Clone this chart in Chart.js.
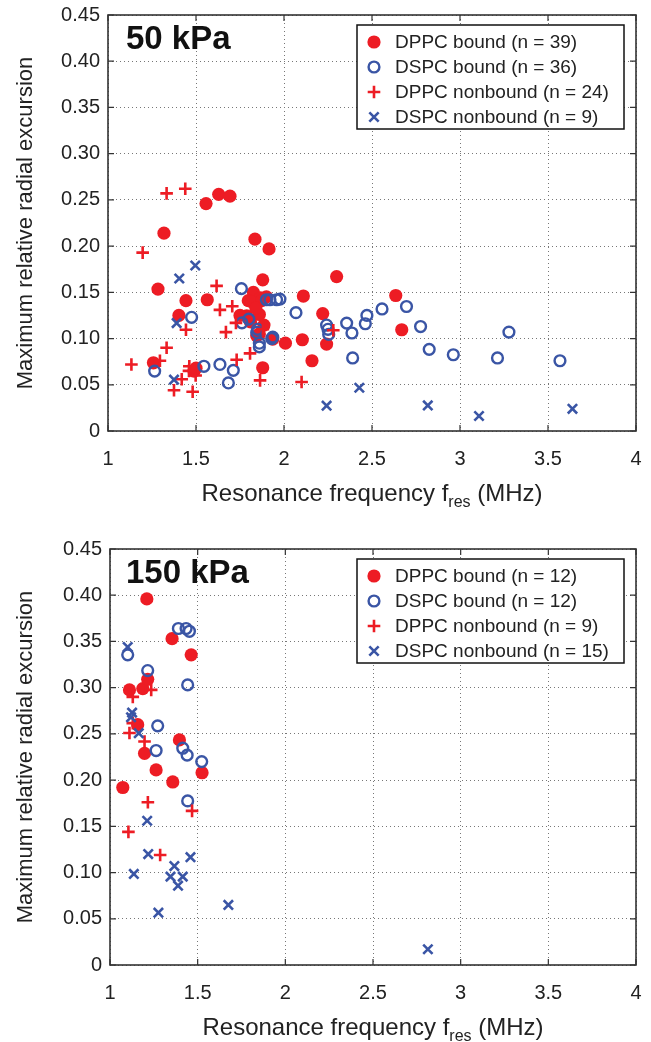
<!DOCTYPE html>
<html><head><meta charset="utf-8">
<script src="https://cdn.jsdelivr.net/npm/chart.js@4"></script>
<style>
html,body{margin:0;padding:0;background:#fff;}
#wrap{position:relative;width:651px;height:1042px;overflow:hidden;}
.c{position:absolute;left:0;width:651px;height:521px;}
</style></head><body>
<div id="wrap">
<div class="c" style="top:0"><canvas id="c1" width="651" height="521"></canvas></div>
<div class="c" style="top:521px"><canvas id="c2" width="651" height="521"></canvas></div>
</div>
<script>
// ---------- tick labels ----------
const xTickLabels = ['1','1.5','2','2.5','3','3.5','4'];
const yTickLabels = ['0','0.05','0.10','0.15','0.20','0.25','0.30','0.35','0.40','0.45'];
const seriesNames = ['DPPC bound','DSPC bound','DPPC nonbound','DSPC nonbound'];
const panelTitles = ['50 kPa','150 kPa'];
const counts50 = [39,36,24,9];
const counts150 = [12,12,9,15];

// ---------- 50 kPa ----------
const f50_dppcBound = [1.557,1.629,1.693,1.318,1.835,1.915,1.879,2.299,1.284,1.443,1.564,1.826,1.797,1.867,2.110,1.403,1.788,1.860,1.886,1.845,1.936,2.008,2.104,2.220,2.242,2.159,1.258,1.489,1.879,2.635,2.669,1.816,1.873,1.840,1.810,1.860,1.900,1.750,1.500];
const r50_dppcBound = [0.246,0.256,0.254,0.214,0.2075,0.197,0.1635,0.167,0.1535,0.141,0.142,0.150,0.141,0.144,0.146,0.125,0.1246,0.126,0.1146,0.103,0.0994,0.095,0.0987,0.127,0.094,0.076,0.0738,0.0648,0.0684,0.1466,0.1095,0.140,0.141,0.133,0.118,0.105,0.145,0.125,0.068];
const f50_dspcBound = [1.265,1.475,1.545,1.636,1.684,1.712,1.758,1.761,1.845,1.860,1.936,1.920,1.958,1.977,2.068,2.242,2.254,2.356,2.386,2.390,2.462,2.471,2.557,2.696,2.776,2.825,2.962,3.213,3.278,3.568,1.800,1.850,1.930,1.860,2.250,1.900];
const r50_dspcBound = [0.0648,0.123,0.070,0.072,0.052,0.0656,0.154,0.117,0.1066,0.091,0.1016,0.142,0.142,0.1427,0.128,0.1146,0.1045,0.1167,0.106,0.079,0.116,0.125,0.132,0.1347,0.113,0.0883,0.0825,0.079,0.107,0.076,0.121,0.110,0.100,0.095,0.110,0.142];
const f50_dppcNon = [1.333,1.439,1.197,1.617,1.636,1.706,1.727,1.670,1.443,1.333,1.295,1.133,1.462,1.419,1.498,1.375,1.481,1.731,1.807,1.864,2.100,2.280,1.880,1.460];
const r50_dppcNon = [0.257,0.262,0.193,0.157,0.131,0.135,0.117,0.107,0.1095,0.090,0.076,0.072,0.070,0.056,0.060,0.044,0.0425,0.077,0.084,0.0548,0.053,0.109,0.110,0.065];
const f50_dspcNon = [1.496,1.405,1.390,1.375,2.242,2.428,2.817,3.108,3.639];
const r50_dspcNon = [0.179,0.165,0.1167,0.0555,0.0274,0.0468,0.0277,0.0162,0.024];

// ---------- 150 kPa ----------
const f150_dppcBound = [1.210,1.354,1.463,1.111,1.187,1.215,1.158,1.396,1.197,1.263,1.525,1.073,1.358];
const r150_dppcBound = [0.396,0.353,0.3355,0.2976,0.299,0.309,0.260,0.2435,0.229,0.211,0.208,0.192,0.198];
const f150_dspcBound = [1.101,1.215,1.390,1.434,1.453,1.443,1.272,1.263,1.415,1.440,1.523,1.443];
const r150_dspcBound = [0.3355,0.3185,0.364,0.364,0.361,0.303,0.2587,0.232,0.2345,0.227,0.220,0.1775];
const f150_dppcNon = [1.111,1.197,1.235,1.130,1.130,1.216,1.468,1.105,1.286];
const r150_dppcNon = [0.251,0.2417,0.2976,0.290,0.2616,0.176,0.1667,0.144,0.119];
const f150_dspcNon = [1.101,1.126,1.164,1.120,1.212,1.218,1.459,1.136,1.367,1.345,1.415,1.388,1.276,1.675,2.813];
const r150_dspcNon = [0.344,0.273,0.2508,0.268,0.156,0.120,0.1166,0.0985,0.107,0.0956,0.0956,0.0858,0.0566,0.065,0.017];

// ---------- styling ----------
const RED = '#ED1C24', BLUE = '#3A55A5';
const FONT = '"Liberation Sans", Arial, Helvetica, sans-serif';
const styles = [
  {pointStyle:'circle', pointRadius:6.6, backgroundColor:RED, borderColor:RED, borderWidth:0, order:4},
  {pointStyle:'circle', pointRadius:5.4, backgroundColor:'rgba(0,0,0,0)', borderColor:BLUE, borderWidth:2.4, order:3},
  {pointStyle:'cross', pointRadius:6.3, backgroundColor:RED, borderColor:RED, borderWidth:2.6, order:2},
  {pointStyle:'crossRot', pointRadius:6.6, backgroundColor:BLUE, borderColor:BLUE, borderWidth:2.6, order:1}
];
const pts = (xs, ys) => xs.map((x, i) => ({x: x, y: ys[i]}));

function makeDatasets(pairs, counts) {
  return pairs.map((p, i) => Object.assign({
    label: seriesNames[i] + ' (n = ' + counts[i] + ')',
    data: pts(p[0], p[1]),
    showLine: false,
    pointHoverRadius: styles[i].pointRadius
  }, styles[i]));
}

const decorPlugin = {
  id: 'decor',
  afterDraw(chart, args, opts) {
    const ctx = chart.ctx, a = chart.chartArea;
    const xs = chart.scales.x, ys = chart.scales.y;
    ctx.save();
    // box
    ctx.strokeStyle = '#333';
    ctx.lineWidth = 1.6;
    ctx.strokeRect(a.left, a.top, a.right - a.left, a.bottom - a.top);
    // inward ticks
    ctx.lineWidth = 1.2;
    ctx.beginPath();
    xTickLabels.forEach(t => {
      const px = xs.getPixelForValue(parseFloat(t));
      ctx.moveTo(px, a.bottom); ctx.lineTo(px, a.bottom - 6);
      ctx.moveTo(px, a.top); ctx.lineTo(px, a.top + 6);
    });
    yTickLabels.forEach(t => {
      const py = ys.getPixelForValue(parseFloat(t));
      ctx.moveTo(a.left, py); ctx.lineTo(a.left + 6, py);
      ctx.moveTo(a.right, py); ctx.lineTo(a.right - 6, py);
    });
    ctx.stroke();
    // panel title
    ctx.fillStyle = '#111';
    ctx.font = 'bold 33px ' + FONT;
    ctx.textAlign = 'left';
    ctx.textBaseline = 'middle';
    ctx.fillText(opts.panel, 126, a.top + 25);
    // x axis title with subscript
    const yT = a.bottom + 62;
    const big = '24px ' + FONT, small = '16px ' + FONT;
    const p1 = 'Resonance frequency f', p2 = 'res', p3 = ' (MHz)';
    ctx.font = big; const w1 = ctx.measureText(p1).width, w3 = ctx.measureText(p3).width;
    ctx.font = small; const w2 = ctx.measureText(p2).width;
    let x0 = (a.left + a.right) / 2 - (w1 + w2 + w3) / 2;
    ctx.fillStyle = '#222';
    ctx.textBaseline = 'alphabetic';
    const base = yT + 8;
    ctx.font = big; ctx.fillText(p1, x0, base); x0 += w1;
    ctx.font = small; ctx.fillText(p2, x0, base + 6); x0 += w2;
    ctx.font = big; ctx.fillText(p3, x0, base);
    // legend
    const L = 357, R = 624, T = a.top + 10, B = a.top + 114;
    ctx.fillStyle = '#fff';
    ctx.fillRect(L, T, R - L, B - T);
    ctx.strokeStyle = '#111';
    ctx.lineWidth = 1.5;
    ctx.strokeRect(L, T, R - L, B - T);
    const rows = [17, 42, 67, 92];
    chart.data.datasets.forEach((ds, i) => {
      const ry = T + rows[i];
      ctx.save();
      ctx.fillStyle = ds.backgroundColor;
      ctx.strokeStyle = ds.borderColor;
      ctx.lineWidth = ds.borderWidth;
      Chart.helpers.drawPoint(ctx, {pointStyle: ds.pointStyle, radius: ds.pointRadius, borderWidth: ds.borderWidth, rotation: 0}, 374, ry);
      ctx.restore();
      ctx.fillStyle = '#222';
      ctx.font = '19px ' + FONT;
      ctx.textAlign = 'left';
      ctx.textBaseline = 'middle';
      ctx.fillText(ds.label, 395, ry + 1);
    });
    ctx.restore();
  }
};

function makeChart(id, panel, datasets, box) {
  return new Chart(document.getElementById(id), {
    type: 'scatter',
    data: {datasets: datasets},
    plugins: [decorPlugin],
    options: {
      responsive: false,
      animation: false,
      devicePixelRatio: 1,
      layout: {padding: {left: 0, top: box.top, right: 651 - box.right, bottom: 0}},
      plugins: {legend: {display: false}, tooltip: {enabled: false}, decor: {panel: panel}},
      scales: {
        x: {
          type: 'linear', min: 1, max: 4,
          afterFit: s => { s.height = 521 - box.bottom; s.paddingLeft = 0; s.paddingRight = 0; },
          afterBuildTicks: s => { s.ticks = xTickLabels.map(t => ({value: parseFloat(t)})); },
          ticks: {callback: (v) => xTickLabels[Math.round((v - 1) / 0.5)], color: '#222', font: {family: FONT, size: 20}, padding: 16, maxRotation: 0},
          grid: {color: '#777', lineWidth: 1, drawTicks: false},
          border: {display: false, dash: [1, 3]}
        },
        y: {
          type: 'linear', min: 0, max: 0.45,
          afterFit: s => { s.width = box.left; s.paddingTop = 0; s.paddingBottom = 0; },
          afterBuildTicks: s => { s.ticks = yTickLabels.map(t => ({value: parseFloat(t)})); },
          ticks: {callback: (v) => yTickLabels[Math.round(v / 0.05)], color: '#222', font: {family: FONT, size: 20}, padding: 8},
          grid: {color: '#777', lineWidth: 1, drawTicks: false},
          border: {display: false, dash: [1, 3]},
          title: {display: true, text: 'Maximum relative radial excursion', color: '#222', font: {family: FONT, size: 22, weight: 'normal'}, padding: {top: 13, bottom: 0}}
        }
      }
    }
  });
}

makeChart('c1', panelTitles[0], makeDatasets([
  [f50_dppcBound, r50_dppcBound],
  [f50_dspcBound, r50_dspcBound],
  [f50_dppcNon, r50_dppcNon],
  [f50_dspcNon, r50_dspcNon]
], counts50), {left: 108, top: 15, right: 636, bottom: 431});

makeChart('c2', panelTitles[1], makeDatasets([
  [f150_dppcBound, r150_dppcBound],
  [f150_dspcBound, r150_dspcBound],
  [f150_dppcNon, r150_dppcNon],
  [f150_dspcNon, r150_dspcNon]
], counts150), {left: 110, top: 28, right: 636, bottom: 444});
</script>
</body></html>
